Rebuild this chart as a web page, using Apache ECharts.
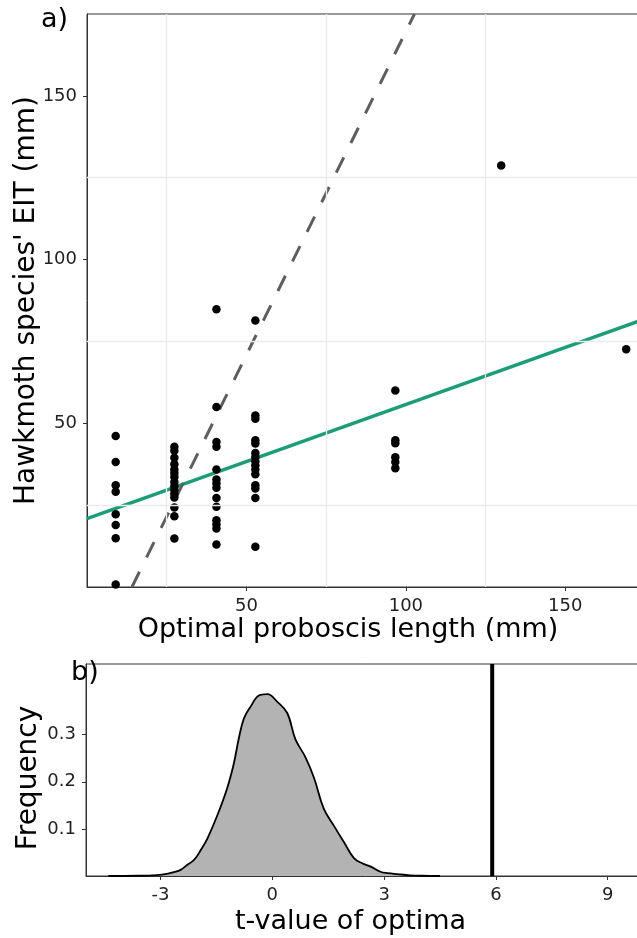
<!DOCTYPE html>
<html>
<head>
<meta charset="utf-8">
<script src="https://cdn.jsdelivr.net/npm/echarts@6/dist/echarts.min.js"></script>
<style>
  html, body { margin: 0; padding: 0; background: #fff; overflow: hidden; }
  /* the original figure is cut at the right edge, so the chart is a bit wider than the window */
  #chart { width: 645px; height: 938px; }
</style>
</head>
<body>
<div id="chart"></div>
<script>
// panel a) - optimal proboscis length vs EIT, one column of species per optimum
var proboscis = [9, 27.4, 40.6, 52.8, 96.7, 129.9, 169.1];
var eit9 = [46.1, 38.2, 31.1, 29.1, 22.2, 18.9, 14.9, 0.8];
var eit27 = [42.8, 41.6, 39.5, 37.5, 35.9, 34.8, 33.6, 32.1, 30.8, 29.6, 28.5, 27.3, 24.3, 21.6, 14.8];
var eit41 = [84.8, 55, 44.3, 42.8, 35.9, 32.8, 31.6, 30.3, 27.2, 24.5, 20.4, 19.2, 17.9, 13];
var eit53 = [81.4, 52.4, 51.4, 44.8, 43.8, 40.9, 39.7, 38.4, 37.2, 35.9, 34.4, 31.1, 30.1, 27.2, 12.3];
var eit97 = [60, 44.8, 43.9, 39.6, 38.2, 36.3];
var eit130 = [128.7];
var eit169 = [72.6];
var eitColumns = [eit9, eit27, eit41, eit53, eit97, eit130, eit169];

// fitted regression (green) and the dashed reference line, end points
var fitX = [0, 175];
var fitY = [20.9, 81.9];
var refX = [14.1, 102.7];
var refY = [0, 175];

var topTicks = [50, 100, 150];
var topGrid = [25, 75, 125];

// panel b) - density of t-values
var tValue = [-4.4, -3.6, -3.1, -2.8, -2.64, -2.46, -2.28, -2.1, -1.92, -1.74, -1.47, -1.21, -1.03, -0.9, -0.76,
  -0.58, -0.36, -0.13, 0.13, 0.4, 0.62, 0.89, 1.12, 1.38, 1.65, 1.92, 2.19, 2.41, 2.64, 2.9, 3.1, 3.35, 3.7, 4.0, 4.5];
var density = [0, 0.0005, 0.002, 0.005, 0.008, 0.013, 0.024, 0.034, 0.055, 0.080, 0.130, 0.187, 0.240, 0.292, 0.335,
  0.360, 0.383, 0.386, 0.370, 0.346, 0.290, 0.252, 0.208, 0.143, 0.107, 0.072, 0.038, 0.027, 0.020, 0.009, 0.006, 0.004, 0.0015, 0.0005, 0];
var observedT = 5.9;
var bottomXTicks = [-3, 0, 3, 6, 9];
var bottomYTicks = [0.1, 0.2, 0.3];

var points = [];
proboscis.forEach(function (x, i) {
  eitColumns[i].forEach(function (y) { points.push([x, y]); });
});
var densityData = tValue.map(function (t, i) { return [t, density[i]]; });

var font = 'DejaVu Sans';
var axisCol = '#333333';

function valueAxis(idx, min, max, interval, ticks, extra) {
  var a = {
    type: 'value', gridIndex: idx, min: min, max: max, interval: interval,
    axisLine: { show: true, onZero: false, lineStyle: { color: axisCol, width: 1 } },
    axisTick: { show: true, length: 4, customValues: ticks, lineStyle: { color: axisCol, width: 1 } },
    axisLabel: { customValues: ticks, color: '#222', fontSize: 18, fontFamily: font, margin: 10 },
    splitLine: { show: false },
    nameLocation: 'middle',
    nameMoveOverlap: false,
    nameTextStyle: { color: '#000', fontSize: 27, fontFamily: font }
  };
  for (var k in extra) a[k] = extra[k];
  return a;
}

var chart = echarts.init(document.getElementById('chart'), null, { renderer: 'canvas' });
chart.setOption({
  animation: false,
  backgroundColor: '#fff',
  textStyle: { fontFamily: font },
  grid: [
    { left: 87, top: 14, right: 0, bottom: 351, outerBoundsMode: 'none', containLabel: false,
      show: true, borderColor: axisCol, borderWidth: 1, backgroundColor: 'transparent' },
    { left: 86, top: 664, right: 0, bottom: 62, outerBoundsMode: 'none', containLabel: false,
      show: true, borderColor: axisCol, borderWidth: 1, backgroundColor: 'transparent' }
  ],
  xAxis: [
    valueAxis(0, 0, 175, 50, topTicks, {
      name: 'Optimal proboscis length (mm)', nameGap: 29,
      nameTextStyle: { color: '#000', fontSize: 27, fontFamily: font, padding: [0, 36, 0, 0] }
    }),
    valueAxis(1, -5, 10, 3, bottomXTicks, {
      name: 't-value of optima', nameGap: 32,
      nameTextStyle: { color: '#000', fontSize: 27, fontFamily: font, padding: [0, 30, 0, 0] }
    })
  ],
  yAxis: [
    valueAxis(0, 0, 175, 50, topTicks, {
      name: "Hawkmoth species' EIT (mm)", nameGap: 46,
      nameTextStyle: { color: '#000', fontSize: 28, fontFamily: font }
    }),
    valueAxis(1, 0, 0.45, 0.1, bottomYTicks, {
      name: 'Frequency', nameGap: 43,
      nameTextStyle: { color: '#000', fontSize: 28, fontFamily: font, padding: [0, 16, 0, 0] }
    })
  ],
  graphic: [
    { type: 'text', left: 41, top: 6, style: { text: 'a)', fontSize: 27, fontFamily: font, fill: '#000' } },
    { type: 'text', left: 71, top: 659, style: { text: 'b)', fontSize: 27, fontFamily: font, fill: '#000' } }
  ],
  series: [
    {
      // minor grid lines of panel a)
      type: 'scatter', xAxisIndex: 0, yAxisIndex: 0, data: [], silent: true, z: 1,
      markLine: {
        silent: true, symbol: 'none', label: { show: false },
        lineStyle: { color: '#ebebeb', width: 1.3, type: 'solid' },
        data: topGrid.map(function (v) { return { xAxis: v }; })
          .concat(topGrid.map(function (v) { return { yAxis: v }; }))
      }
    },
    {
      type: 'line', xAxisIndex: 0, yAxisIndex: 0, z: 3,
      data: fitX.map(function (x, i) { return [x, fitY[i]]; }),
      showSymbol: false, lineStyle: { color: '#1b9e77', width: 3.5 }
    },
    {
      type: 'line', xAxisIndex: 0, yAxisIndex: 0, z: 3,
      data: refX.map(function (x, i) { return [x, refY[i]]; }),
      showSymbol: false, lineStyle: { color: '#5e5e5e', width: 3, type: [17, 16] }
    },
    {
      type: 'scatter', xAxisIndex: 0, yAxisIndex: 0, z: 4,
      data: points, symbolSize: 8.5, itemStyle: { color: '#000', opacity: 1 }
    },
    {
      type: 'line', xAxisIndex: 1, yAxisIndex: 1, z: 3,
      data: densityData, smooth: 0.4, showSymbol: false,
      lineStyle: { color: '#000', width: 1.8 },
      areaStyle: { color: '#b3b3b3', opacity: 1 }
    },
    {
      type: 'line', xAxisIndex: 1, yAxisIndex: 1, z: 4,
      data: [[observedT, 0], [observedT, 0.45]], showSymbol: false,
      lineStyle: { color: '#000', width: 4 }
    }
  ]
});
</script>
</body>
</html>
